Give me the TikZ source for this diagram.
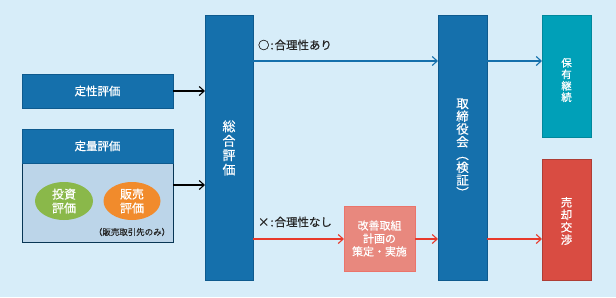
\documentclass[tikz,border=0pt]{standalone}
\usepackage{fontspec}
\setmainfont{Noto Sans CJK JP}[FakeBold=0.5]
\usetikzlibrary{arrows.meta,shapes.geometric}
\definecolor{bgc}{HTML}{D7EDF9}
\definecolor{dblue}{HTML}{1570AC}
\definecolor{dblueb}{HTML}{0E5A8E}
\definecolor{lbody}{HTML}{BCD5E9}
\definecolor{lgreen}{HTML}{8AB84A}
\definecolor{lorange}{HTML}{F18B2C}
\definecolor{salmon}{HTML}{E8887E}
\definecolor{teal}{HTML}{00A0B8}
\definecolor{redb}{HTML}{D94C42}
\definecolor{redl}{HTML}{E8392B}
\tikzset{
  every node/.style={inner sep=0pt, outer sep=0pt},
  bluebox/.style={fill=dblue, draw=dblueb, line width=0.6pt},
  wtxt/.style={text=white, font=\fontsize{11.5}{13}\selectfont, align=center},
  vtxt/.style={text=white, align=center},
  arrb/.style={-{Straight Barb[length=5pt,width=9pt,line width=1.1pt]}, line width=1.6pt, black},
  arrblue/.style={-{Straight Barb[length=5pt,width=9pt,line width=1.1pt]}, line width=1.6pt, dblue},
  arrred/.style={-{Straight Barb[length=5pt,width=9pt,line width=1.1pt]}, line width=1.6pt, redl},
  lbl/.style={font=\fontsize{11.5}{13}\selectfont, text=black!85, anchor=west}
}
\begin{document}
\begin{tikzpicture}[x=1bp,y=-1bp]
\fill[bgc] (0,0) rectangle (616,297);
\useasboundingbox (0,0) rectangle (616,297);
% left boxes
\node[bluebox, minimum width=151bp, minimum height=34bp] (tei) at (97.5,91) {};
\node[wtxt] at (tei) {定性評価};
\node[fill=lbody, draw=dblueb!60!black, line width=0.6pt, minimum width=151bp, minimum height=79bp] (body) at (97.5,202.5) {};
\node[bluebox, minimum width=151bp, minimum height=34bp] (ryo) at (97.5,146) {};
\node[wtxt] at (ryo) {定量評価};
\node[ellipse, fill=lgreen, minimum width=58bp, minimum height=38bp] (toushi) at (64,201) {};
\node[wtxt, font=\fontsize{12}{14}\selectfont] at (toushi) {投資\\評価};
\node[ellipse, fill=lorange, minimum width=57bp, minimum height=38bp] (hanbai) at (132,201) {};
\node[wtxt, font=\fontsize{12}{14}\selectfont] at (hanbai) {販売\\評価};
\node[font=\fontsize{8.5}{10}\selectfont, text=black!85] (note) at (132,232) {（販売取引先のみ）};
% sogo
\node[bluebox, minimum width=48bp, minimum height=265bp] (sogo) at (229,147.5) {};
\node[vtxt, font=\fontsize{13}{14.5}\selectfont] at (229,148) {総\\合\\評\\価};
\coordinate (s1) at (205,91);
\coordinate (s2) at (205,185);
\draw[arrb] (tei.east) -- (s1);
\draw[arrb] (body.east |- s2) -- (s2);
% torishimari
\node[bluebox, minimum width=49bp, minimum height=265bp] (tori) at (462.5,147.5) {};
\node[vtxt, font=\fontsize{12.5}{12.8}\selectfont] at (462.5,148) {取\\締\\役\\会\\︵\\検\\証\\︶};
% kaizen
\node[fill=salmon, draw=salmon!85!red, line width=0.5pt, minimum width=71bp, minimum height=65bp] (kai) at (379.5,238.5) {};
\node[wtxt, font=\fontsize{11}{13}\selectfont] at (kai) {改善取組\\計画の\\策定・実施};
% right boxes
\node[fill=teal, draw=teal!85!black, line width=0.5pt, minimum width=49bp, minimum height=122bp] (hoyu) at (566.5,76) {};
\node[vtxt, font=\fontsize{10.5}{11.5}\selectfont] at (566.5,80) {保\\有\\継\\続};
\node[fill=redb, draw=redb!80!black, line width=0.5pt, minimum width=49bp, minimum height=121bp] (bai) at (566.5,219.5) {};
\node[vtxt, font=\fontsize{11.5}{12.5}\selectfont] at (566.5,221) {売\\却\\交\\渉};
% connectors
\coordinate (ya) at (253,61);
\coordinate (yb) at (253,239);
\draw[arrblue] (ya) -- (tori.west |- ya);
\draw[arrblue] (tori.east |- ya) -- (hoyu.west |- ya);
\draw[arrred] (yb) -- (kai.west |- yb);
\draw[arrred] (kai.east |- yb) -- (tori.west |- yb);
\draw[arrred] (tori.east |- yb) -- (bai.west |- yb);
\node[lbl] (l1) at (258,45) {○\kern1pt:\kern1pt合理性あり};
\node[lbl] (l2) at (258,222) {×\kern1pt:\kern1pt合理性なし};
\end{tikzpicture}
\end{document}
